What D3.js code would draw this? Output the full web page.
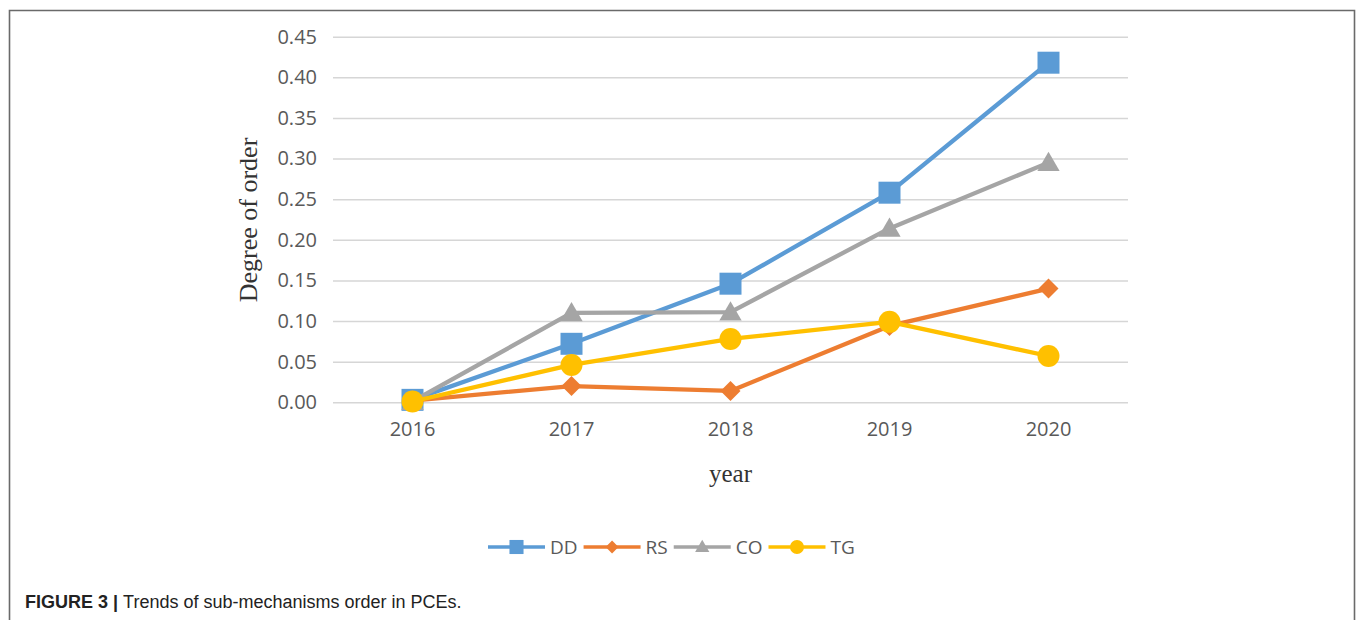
<!DOCTYPE html>
<html>
<head>
<meta charset="utf-8">
<script src="https://cdn.jsdelivr.net/npm/d3@7"></script>
<style>
  body { margin: 0; background: #fff; }
</style>
</head>
<body>
<svg id="chart" width="1357" height="620"></svg>
<script>
// values
const years = ['2016', '2017', '2018', '2019', '2020'];
const yTicks = [0, 0.05, 0.10, 0.15, 0.20, 0.25, 0.30, 0.35, 0.40, 0.45];
const seriesNames = ['DD', 'RS', 'CO', 'TG'];
const ddValues = [0.003, 0.072, 0.146, 0.258, 0.418];
const rsValues = [0.002, 0.020, 0.014, 0.094, 0.140];
const coValues = [0.001, 0.110, 0.111, 0.214, 0.295];
const tgValues = [0.001, 0.046, 0.078, 0.099, 0.057];

const colors = ['#5b9bd5', '#ed7d31', '#a5a5a5', '#ffc000'];
const values = [ddValues, rsValues, coValues, tgValues];

const svg = d3.select('#chart');
const plot = { left: 333, right: 1128, top: 36.7, bottom: 402.3 };

const x = d3.scaleBand().domain(years).range([plot.left, plot.right]);
const y = d3.scaleLinear().domain([0, 0.45]).range([plot.bottom, plot.top]);

// frame round the figure (open at the bottom)
svg.append('path')
  .attr('d', 'M9.5,640 V10.5 H1354.5 V640')
  .attr('fill', 'none')
  .attr('stroke', '#6a6a6a')
  .attr('stroke-width', 1.6);

// gridlines + y labels
const yAxis = d3.axisLeft(y)
  .tickValues(yTicks)
  .tickSize(-(plot.right - plot.left))
  .tickPadding(16)
  .tickFormat(d3.format('.2f'));

const gy = svg.append('g')
  .attr('transform', `translate(${plot.left},0)`)
  .call(yAxis);
gy.select('.domain').remove();
gy.selectAll('line').attr('stroke', '#d6d6d6').attr('stroke-width', 1.6);
gy.selectAll('text')
  .attr('fill', '#595959')
  .style('font-family', '"Open Sans", sans-serif')
  .style('font-size', '20px');

// x labels
const xAxis = d3.axisBottom(x).tickSize(0).tickPadding(20);
const gx = svg.append('g')
  .attr('transform', `translate(0,${plot.bottom})`)
  .call(xAxis);
gx.select('.domain').remove();
gx.selectAll('text')
  .attr('fill', '#595959')
  .style('font-family', '"Open Sans", sans-serif')
  .style('font-size', '20px');

// axis titles
svg.append('text')
  .attr('transform', 'translate(257,220) rotate(-90)')
  .attr('text-anchor', 'middle')
  .attr('fill', '#333')
  .style('font-family', '"Liberation Serif", serif')
  .style('font-size', '26px')
  .text('Degree of order');

svg.append('text')
  .attr('x', (plot.left + plot.right) / 2)
  .attr('y', 482)
  .attr('text-anchor', 'middle')
  .attr('fill', '#333')
  .style('font-family', '"Liberation Serif", serif')
  .style('font-size', '25px')
  .text('year');

// marker shapes, sized for plot and legend
const marker = (i, big) => {
  const k = big ? 1 : 0.64;
  if (i === 0) return d3.symbol(d3.symbolSquare, 484 * k * k)();
  if (i === 1) return d3.symbol(d3.symbolSquare, 200 * k * k)();
  if (i === 2) return d3.symbol(d3.symbolTriangle, 215 * k * k)();
  return d3.symbol(d3.symbolCircle, 380 * k * k)();
};
const markerRot = i => (i === 1 ? ' rotate(45)' : '');

const line = d3.line()
  .x((d, j) => x(years[j]) + x.bandwidth() / 2)
  .y(d => y(d));

values.forEach((vals, i) => {
  const g = svg.append('g');
  g.append('path')
    .datum(vals)
    .attr('fill', 'none')
    .attr('stroke', colors[i])
    .attr('stroke-width', 4.3)
    .attr('stroke-linejoin', 'round')
    .attr('d', line);
  g.selectAll('path.m')
    .data(vals)
    .join('path')
    .attr('class', 'm')
    .attr('fill', colors[i])
    .attr('transform', (d, j) => {
      const dy = i === 2 ? 2 : 0;
      return `translate(${x(years[j]) + x.bandwidth() / 2},${y(d) + dy})` + markerRot(i);
    })
    .attr('d', marker(i, true));
});

// legend
const legend = svg.append('g').attr('transform', 'translate(488,547)');
let lx = 0;
seriesNames.forEach((name, i) => {
  const item = legend.append('g').attr('transform', `translate(${lx},0)`);
  item.append('line')
    .attr('x1', 0).attr('x2', 57)
    .attr('stroke', colors[i])
    .attr('stroke-width', 3.5);
  item.append('path')
    .attr('transform', `translate(28.5,${i === 2 ? 1 : 0})` + markerRot(i))
    .attr('fill', colors[i])
    .attr('d', marker(i, false));
  const t = item.append('text')
    .attr('x', 62)
    .attr('dy', '0.35em')
    .attr('fill', '#595959')
    .style('font-family', '"Open Sans", sans-serif')
    .style('font-size', '19px')
    .text(name);
  lx += 62 + t.node().getComputedTextLength() + 6;
});

// caption
const cap = svg.append('text')
  .attr('x', 25)
  .attr('y', 608)
  .attr('fill', '#222')
  .style('font-family', '"Liberation Sans", Arial, sans-serif')
  .style('font-size', '18px');
cap.append('tspan').attr('font-weight', 'bold').text('FIGURE 3 | ');
cap.append('tspan').text('Trends of sub-mechanisms order in PCEs.');
</script>
</body>
</html>
